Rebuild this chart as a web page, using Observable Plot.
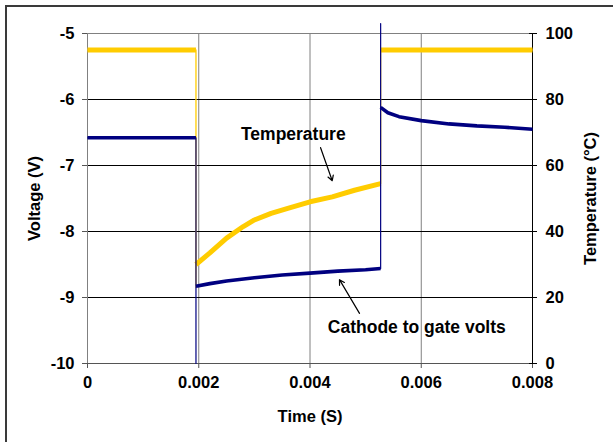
<!DOCTYPE html>
<html><head><meta charset="utf-8">
<script src="https://cdn.jsdelivr.net/npm/d3@7"></script>
<script src="https://cdn.jsdelivr.net/npm/@observablehq/plot@0.6"></script>
<style>
html,body{margin:0;padding:0;background:#fff;overflow:hidden;width:613px;height:442px;}
#wrap{position:relative;width:613px;height:442px;overflow:hidden;}
#border{position:absolute;left:5px;top:5px;width:800px;height:800px;border:2px solid #3a3a3a;box-sizing:border-box;pointer-events:none;}
svg{position:absolute;left:0;top:0;}
</style></head><body><div id="wrap"><div id="border"></div></div>
<script>
// Cathode-to-gate voltage (V) over time (s)
const voltTime  = [0, 0.00195, 0.00195, 0.00195, 0.0022, 0.0025, 0.003, 0.0035, 0.004, 0.0045, 0.005, 0.00527, 0.00527, 0.00527, 0.0054, 0.0056, 0.006, 0.0065, 0.007, 0.0075, 0.008];
const voltValue = [-6.58, -6.58, -10.0, -8.83, -8.79, -8.75, -8.70, -8.66, -8.63, -8.60, -8.58, -8.56, -4.85, -6.12, -6.20, -6.26, -6.32, -6.37, -6.40, -6.42, -6.45];
// Temperature (°C) over time (s)
const tempTime  = [0, 0.00195, 0.00195, 0.00195, 0.0022, 0.0025, 0.0028, 0.003, 0.0033, 0.0036, 0.004, 0.0044, 0.0048, 0.00527, 0.00527, 0.008];
const tempValue = [95, 95, 23, 30, 33.5, 38, 41.5, 43.5, 45.5, 47, 49, 50.5, 52.5, 54.5, 95, 95];

const timeTicks = [0, 0.002, 0.004, 0.006, 0.008];
const voltTicks = [-10, -9, -8, -7, -6, -5];
const tempTicks = [0, 20, 40, 60, 80, 100];

const annoText = ["Temperature", "Cathode to gate volts"];
const annoTime = [0.0037, 0.00592];
const annoVolt = [-6.53, -9.455];
const arrowTime1 = [0.00419, 0.00489];
const arrowVolt1 = [-6.73, -9.24];
const arrowTime2 = [0.00440, 0.00453];
const arrowVolt2 = [-7.23, -8.73];

// temperature 0..100 shares the plot with voltage -10..-5
const tempToVolt = T => -10 + T / 20;

function series(ts, vs) {
  let g = 0;
  return ts.map((t, i) => {
    if (i > 0 && t === ts[i - 1]) g++;
    return {t, v: vs[i], g};
  });
}
const volt = series(voltTime, voltValue);
const temp = series(tempTime, tempValue.map(tempToVolt));
const annos = annoText.map((s, i) => ({s, t: annoTime[i], v: annoVolt[i]}));
const arrows = arrowTime1.map((t, i) => ({t1: t, v1: arrowVolt1[i], t2: arrowTime2[i], v2: arrowVolt2[i]}));

const YEL = "#FFCC00", NAVY = "#000080";

const chart = Plot.plot({
  width: 613, height: 442,
  marginLeft: 87, marginRight: 81, marginTop: 33, marginBottom: 79,
  style: {fontFamily: "'Liberation Sans', Arial, sans-serif", fontSize: "16.5px", fontWeight: "bold", color: "#000", background: "transparent"},
  x: {domain: [0, 0.008]},
  y: {domain: [-10, -5]},
  marks: [
    Plot.ruleX(timeTicks.slice(1, -1), {stroke: "#808080", strokeWidth: 1}),
    Plot.ruleY(voltTicks.slice(1, -1), {stroke: "#000", strokeWidth: 1}),
    Plot.frame({stroke: "#808080"}),
    Plot.ruleY([-10], {stroke: "#555"}),
    Plot.ruleX([0.008], {stroke: "#000"}),
    Plot.axisX({ticks: timeTicks, tickFormat: d => String(d), tickSize: 5, tickPadding: 8, stroke: "#555",
      label: "Time (S)", labelAnchor: "center", labelOffset: 58, labelArrow: "none"}),
    Plot.axisY({anchor: "left", ticks: voltTicks, tickFormat: d => String(d), tickSize: 5, tickPadding: 8, stroke: "#555",
      label: "Voltage (V)", labelAnchor: "center", labelOffset: 59, labelArrow: "none"}),
    Plot.axisY({anchor: "right", ticks: tempTicks.map(tempToVolt), tickFormat: () => "", tickSize: 8, dx: -4, stroke: "#000", label: null}),
    Plot.axisY({anchor: "right", ticks: tempTicks.map(tempToVolt), tickFormat: d => String(Math.round((d + 10) * 20)), tickSize: 0, tickPadding: 13,
      label: "Temperature (°C)", labelAnchor: "center", labelOffset: 63, labelArrow: "none"}),
    Plot.line(temp, {x: "t", y: "v", stroke: YEL, strokeWidth: 1.3, strokeLinecap: "butt"}),
    Plot.line(temp, {x: "t", y: "v", z: "g", stroke: YEL, strokeWidth: 5, strokeLinecap: "butt"}),
    Plot.line(volt, {x: "t", y: "v", stroke: NAVY, strokeWidth: 1.2, strokeLinecap: "butt"}),
    Plot.line(volt, {x: "t", y: "v", z: "g", stroke: NAVY, strokeWidth: 3.6, strokeLinecap: "butt"}),
    Plot.text(annos, {x: "t", y: "v", text: "s", fill: "#000", fontSize: 17.5, fontWeight: "bold"}),
    Plot.arrow(arrows, {x1: "t1", y1: "v1", x2: "t2", y2: "v2", stroke: "#000", strokeWidth: 1.2, headLength: 7})
  ]
});
document.getElementById("wrap").appendChild(chart);
</script></body></html>
